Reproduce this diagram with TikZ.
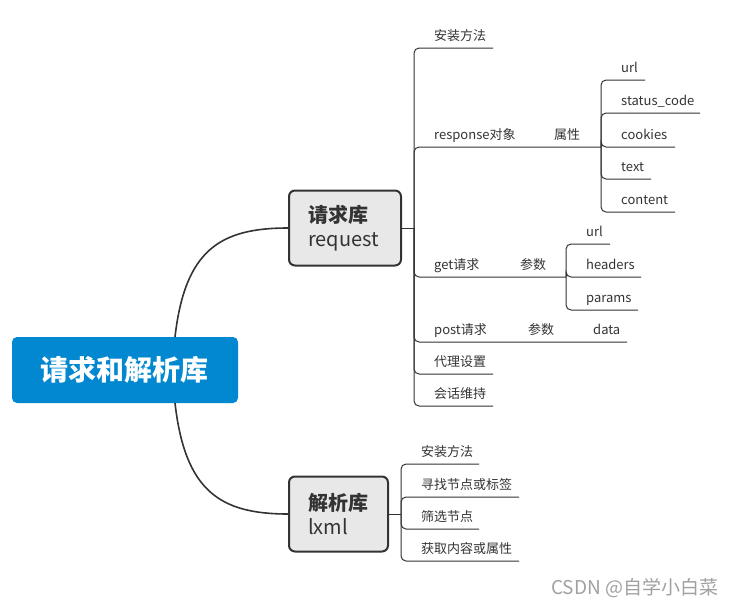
\documentclass[tikz,border=0pt]{standalone}
\usepackage{fontspec}
\setmainfont{Noto Sans CJK SC}
\definecolor{rootblue}{RGB}{2,136,209}
\definecolor{boxgray}{RGB}{232,232,232}
\definecolor{linec}{RGB}{51,51,51}
\definecolor{textc}{RGB}{51,51,51}
\definecolor{wmgray}{RGB}{160,160,160}
\begin{document}
\begin{tikzpicture}[x=1pt,y=-1pt,
  lbl/.style={anchor=base west,inner sep=0pt,text=textc,font=\fontsize{13}{16}\selectfont},
  conn/.style={draw=linec,line width=1pt,rounded corners=5pt},
  curveline/.style={draw=linec,line width=1.6pt},
  subbox/.style={draw=linec,line width=2pt,fill=boxgray,rounded corners=6pt,minimum height=75pt,inner xsep=19pt,align=left,text=textc,font=\fontsize{20}{24.5}\selectfont}]
\useasboundingbox (0,0) rectangle (737,606);
% root
\node[fill=rootblue,rounded corners=5pt,minimum width=226pt,minimum height=66pt,inner sep=0pt,text=white,font=\bfseries\fontsize{28}{32}\selectfont] (root) at (125,370) {请求和解析库};
% sub boxes
\node[subbox,text width=74pt] (req) at (345,228) {\textbf{请求库}\\request};
\node[subbox,text width=61pt] (lx) at (338.5,514) {\textbf{解析库}\\lxml};
% curves
\coordinate (rootTop) at (175,337);
\coordinate (rootBot) at (175,403);
\draw[curveline] (rootTop) .. controls (185,250) and (220,228) .. (req.west);
\draw[curveline] (rootBot) .. controls (185,491) and (220,514) .. (lx.west);
% request branches
\coordinate (rj) at (414,228);
\draw[conn] (req.east) -- (rj);
\coordinate (rq1) at (493,48);
\coordinate (aj) at (601,147);
\coordinate (gj) at (566,277);
\coordinate (rq4) at (627,342);
\coordinate (rq5) at (493,374);
\coordinate (rq6) at (493,406);
\draw[conn] (rj) |- (rq1);
\draw[conn] (rj) |- (aj);
\draw[conn] (rj) |- (gj);
\draw[conn] (rj) |- (rq4);
\draw[conn] (rj) |- (rq5);
\draw[conn] (rj) |- (rq6);
\node[lbl] (t1) at (434,40) {安装方法};
\node[lbl] (t2) at (434,139) {response对象};
\node[lbl] (t2a) at (554,139) {属性};
\node[lbl] (t3) at (434,269) {get请求};
\node[lbl] (t3a) at (520,269) {参数};
\node[lbl] (t4) at (434,334) {post请求};
\node[lbl] (t4a) at (528,334) {参数};
\node[lbl] (t4b) at (593,334) {data};
\node[lbl] (t5) at (434,366) {代理设置};
\node[lbl] (t6) at (434,398) {会话维持};
% attributes
\coordinate (a1) at (645,80);
\coordinate (a2) at (700,113);
\coordinate (a3) at (675,147);
\coordinate (a4) at (651,179);
\coordinate (a5) at (675,212);
\foreach \c in {a1,a2,a3,a4,a5} \draw[conn] (aj) |- (\c);
\node[lbl] (ta1) at (621,72) {url};
\node[lbl] (ta2) at (621,105) {status\_code};
\node[lbl] (ta3) at (621,139) {cookies};
\node[lbl] (ta4) at (621,171) {text};
\node[lbl] (ta5) at (621,204) {content};
% get params
\coordinate (g1) at (610,244);
\coordinate (g2) at (641,277);
\coordinate (g3) at (638,310);
\foreach \c in {g1,g2,g3} \draw[conn] (gj) |- (\c);
\node[lbl] (tg1) at (586,236) {url};
\node[lbl] (tg2) at (586,269) {headers};
\node[lbl] (tg3) at (586,302) {params};
% lxml branches
\coordinate (lj) at (401,514);
\draw[conn] (lx.east) -- (lj);
\coordinate (l1) at (479,464);
\coordinate (l2) at (519,497);
\coordinate (l3) at (479,529);
\coordinate (l4) at (519,561);
\foreach \c in {l1,l2,l3,l4} \draw[conn] (lj) |- (\c);
\node[lbl] (tl1) at (421,456) {安装方法};
\node[lbl] (tl2) at (421,489) {寻找节点或标签};
\node[lbl] (tl3) at (421,521) {筛选节点};
\node[lbl] (tl4) at (421,553) {获取内容或属性};
% watermark
\node[anchor=base west,inner sep=0pt,text=wmgray,font=\fontsize{19}{21}\selectfont] (wm) at (551,594) {CSDN @自学小白菜};
\end{tikzpicture}
\end{document}
